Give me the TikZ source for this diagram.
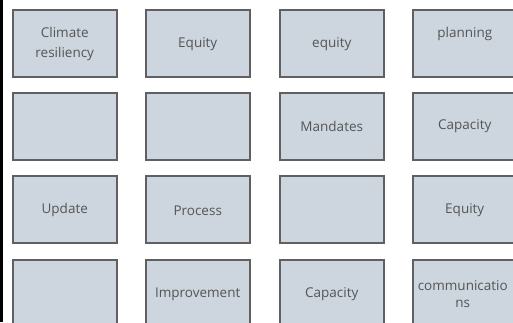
\documentclass[tikz,border=0pt]{standalone}
\usepackage{fontspec}
\setmainfont{Open Sans}
\definecolor{boxfill}{HTML}{CDD6DF}
\definecolor{boxline}{HTML}{606060}
\definecolor{txt}{HTML}{555555}
\begin{document}
\begin{tikzpicture}[x=1pt,y=-1pt,
  card/.style={draw=boxline,fill=boxfill,line width=1.5pt,minimum width=104pt,minimum height=67pt,inner sep=0pt,anchor=north west},
  lbl/.style={text=txt,font=\fontsize{13.5}{20}\selectfont,align=center}]
\useasboundingbox (0,0) rectangle (513,322);
\fill[white] (0,0) rectangle (513,322);
\fill[black] (0,0) rectangle (3,322);
\foreach \c/\x in {1/12,2/145,3/279,4/412}{
  \foreach \r/\y in {1/9,2/92,3/175,4/259}{
    \node[card] (b\r\c) at (\x,\y) {};
  }
}
\node[lbl] (t11) at ([yshift=-1pt]b11.center) {Climate\\resiliency};
\node[lbl] (t12) at ([yshift=-1pt]b12.center) {Equity};
\node[lbl] (t13) at ([yshift=-1pt]b13.center) {equity};
\node[lbl] (t14) at ([yshift=9pt]b14.center) {planning};
\node[lbl] (t23) at (b23.center) {Mandates};
\node[lbl] (t24) at (b24.center) {Capacity};
\node[lbl] (t31) at ([yshift=-1pt]b31.center) {Update};
\node[lbl] (t32) at ([yshift=-1pt]b32.center) {Process};
\node[lbl] (t34) at ([yshift=-1pt]b34.center) {Equity};
\node[lbl] (t42) at ([yshift=-1pt]b42.center) {Improvement};
\node[lbl] (t43) at ([yshift=-1pt]b43.center) {Capacity};
\node[lbl,font=\fontsize{13.5}{17}\selectfont] (t44) at ([xshift=-2pt,yshift=-1pt]b44.center) {communicatio\\ns};
\end{tikzpicture}
\end{document}
